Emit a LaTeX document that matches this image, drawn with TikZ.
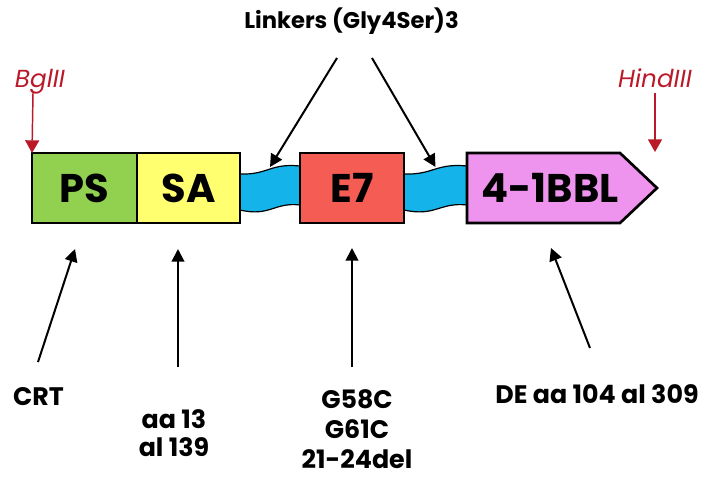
\documentclass[tikz,border=0pt]{standalone}
\usepackage{fontspec}
\setmainfont{Poppins}
\usetikzlibrary{arrows.meta,calc,positioning}
\definecolor{ink}{RGB}{0,0,0}
\definecolor{psgreen}{RGB}{146,208,80}
\definecolor{sayellow}{RGB}{255,255,112}
\definecolor{epired}{RGB}{244,92,84}
\definecolor{bblpink}{RGB}{238,148,238}
\definecolor{linkblue}{RGB}{20,180,235}
\definecolor{sitered}{RGB}{185,25,40}

\begin{document}
\begin{tikzpicture}[
  x=0.75pt,y=-0.75pt,
  box/.style={draw=ink, line width=2pt, minimum height=52.5pt,
              inner sep=0pt, outer sep=0pt,
              font=\fontsize{30}{36}\selectfont\bfseries},
  pointer/.style={-{Triangle[length=9.5pt,width=9.5pt]}, draw=ink,
                  line width=1.5pt},
  site/.style={-{Triangle[length=9.5pt,width=10.5pt]}, draw=sitered,
               line width=1.1pt},
  note/.style={font=\fontsize{19}{22.5}\selectfont\bfseries, align=center,
               inner sep=0pt, anchor=base},
  enzyme/.style={font=\fontsize{18.5}{20}\selectfont\itshape, text=sitered,
                 inner sep=0pt, anchor=base},
  linker/.style={draw=ink, fill=linkblue, line width=0.9pt}
]
\useasboundingbox (0,0) rectangle (711,479);

% Flexible linkers sit behind the domain boxes.
\foreach \xa/\xb/\n in {240/300/1, 404/467/2} {
  \pgfmathsetmacro\xm{(\xa+\xb)/2}
  \draw[linker] (\xa,174) .. controls (\xm-2,175) and (\xm,163) .. (\xb,166)
    -- (\xb,205) .. controls (\xm+4,202) and (\xm,217) .. (\xa,210) -- cycle;
  \coordinate (lk\n) at (\xm,167);
}

% Construct domains.
\node[box, fill=psgreen, minimum width=78.75pt] (ps) at (84.5,188) {PS};
\node[box, fill=sayellow, minimum width=77.25pt, right=0pt of ps] (sa) {SA};
\node[box, fill=epired, minimum width=78pt] (e7) at (352,188) {E7};
\draw[box, fill=bblpink] (467,153) -- (620,153) -- (657,188) -- (620,223)
  -- (467,223) -- cycle;
\node[box, draw=none] (bbl) at (550,188) {4-1BBL};

% Restriction sites.
\node[enzyme] (bgl) at (40,87) {BglII};
\node[enzyme] (hind) at (655,87) {HindIII};
\draw[site] ($(bgl.base -| ps.west)+(1,6)$) -- (ps.north west);
\coordinate (hindTip) at ($(hind.base)+(0,65)$);
\draw[site] ($(hind.base)+(0,6)$) -- (hindTip);

% Linker callout.
\node[note, font=\fontsize{17}{20}\selectfont\bfseries] (linkers)
  at (351.5,28) {Linkers (Gly4Ser)3};
\coordinate (lkTailA) at ($(linkers.base)+(-14.5,30)$);
\coordinate (lkTailB) at ($(linkers.base)+(20.5,30)$);
\draw[pointer] (lkTailA) -- (lk1);
\draw[pointer] (lkTailB) -- (lk2);

% Domain annotations below the construct (base = last line).
\node[note] (crt) at (38.5,405) {CRT};
\node[note] (aa) at (174,456) {aa 13\\[-1.5pt]al 139};
\node[note] (mut) at (357,468) {G58C\\G61C\\21-24del};
\node[note] (de) at (597,403) {DE aa 104 al 309};

\coordinate (crtTip) at ($(ps.south)+(-9.5,26)$);
\coordinate (crtTail) at ($(crtTip)+(-37,113)$);
\coordinate (saTip) at ($(sa.south)+(-10.5,26)$);
\coordinate (saTail) at ($(saTip)+(0,118)$);
\coordinate (e7Tip) at ($(e7.south)+(0,25)$);
\coordinate (e7Tail) at ($(e7Tip)+(0,119)$);
\coordinate (bblTip) at (551,248);
\coordinate (bblTail) at ($(bblTip)+(39,100)$);
\draw[pointer] (crtTail) -- (crtTip);
\draw[pointer] (saTail) -- (saTip);
\draw[pointer] (e7Tail) -- (e7Tip);
\draw[pointer] (bblTail) -- (bblTip);

\end{tikzpicture}
\end{document}
